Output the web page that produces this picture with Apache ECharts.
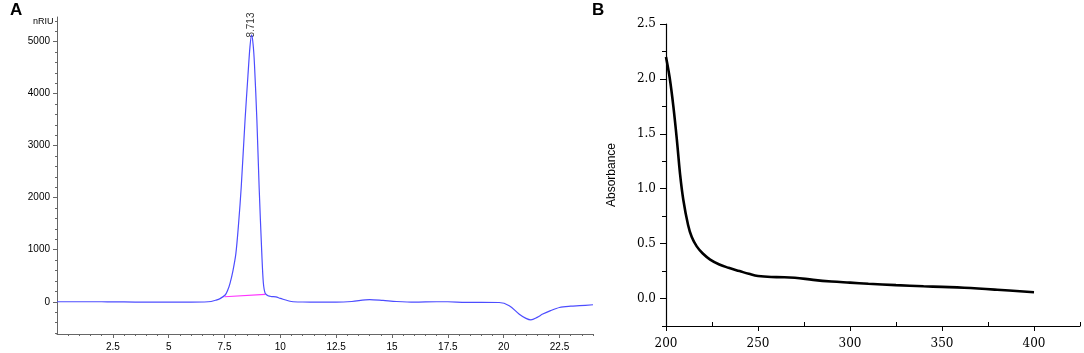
<!DOCTYPE html>
<html>
<head>
<meta charset="utf-8">
<script src="https://cdn.jsdelivr.net/npm/echarts@6/dist/echarts.min.js"></script>
<style>
html,body{margin:0;padding:0;background:#fff;}
#c{width:1084px;height:353px;}
</style>
</head>
<body>
<div id="c"></div>
<script>
// ---- Panel A: chromatogram (time, nRIU) ----
const timeA = [0,1,2,2.5,3.5,5,6,6.6,6.9,7.1,7.3,7.53,7.65,7.75,7.88,8.01,8.13,8.25,8.42,8.55,8.64,8.713,8.78,8.84,8.95,9.05,9.17,9.24,9.32,9.45,9.6,9.8,10.0,10.5,11.0,11.5,12.5,13.2,14.0,14.6,15.2,16.0,17.0,17.5,18.3,19.0,19.8,20.25,20.7,21.0,21.22,21.5,21.75,22.1,22.5,23.0,23.4,24.0];
const signalA = [0,0,0,-2,-6,-7,-7,-5,5,28,60,130,230,360,600,930,1500,2212,3494,4350,4900,5130,4950,4580,3494,2212,930,360,165,115,100,95,65,5,-5,-6,-8,5,42,25,5,-8,0,0,-12,-12,-14,-75,-240,-320,-348,-300,-237,-170,-110,-85,-75,-58];
const baselineT = [7.5, 9.32];
const baselineV = [96, 142];
const peakLabel = "8.713";
const peakTime = 8.713;
const peakValue = 5080;
const xTicksA = [2.5,5,7.5,10,12.5,15,17.5,20,22.5];
const yTicksA = [0,1000,2000,3000,4000,5000];

// ---- Panel B: UV spectrum (wavelength, absorbance) ----
const waveB = [200,202,204,206,207.6,209.4,212,214,216.7,220,224,229,234,240,245,250,260,270,280,290,300,310,325,340,350,362,380,400];
const absB = [2.20,2.01,1.75,1.43,1.14,0.90,0.67,0.56,0.475,0.41,0.355,0.31,0.28,0.25,0.225,0.205,0.195,0.19,0.17,0.155,0.145,0.135,0.122,0.112,0.106,0.098,0.08,0.057];
const xTicksB = [200,250,300,350,400];
const yTicksB = [0,0.5,1.0,1.5,2.0,2.5];

function range(a,b,s){const r=[];for(let v=a;v<=b+1e-9;v+=s){r.push(Math.round(v*1000)/1000);}return r;}
const minorYA = range(-600,5400,200).filter(v=>v%1000!==0);
const minorXA = range(0.5,24,0.5).filter(v=>Math.abs(v/2.5-Math.round(v/2.5))>1e-6);
const minorYB = [-0.25,0.25,0.75,1.25,1.75,2.25];
const minorXB = [225,275,325,375,425];

const lineA = timeA.map((t,i)=>[t,signalA[i]]);
const baseA = baselineT.map((t,i)=>[t,baselineV[i]]);
const lineB = waveB.map((w,i)=>[w,absB[i]]);

const fA = 'Liberation Sans, Arial, sans-serif';
const fB = 'DejaVu Serif, serif';
const axA = '#666';

const chart = echarts.init(document.getElementById('c'), null, {renderer:'canvas'});
chart.setOption({
  animation:false,
  backgroundColor:'#fff',
  graphic:[
    {type:'text', left:10, top:2, style:{text:'A', font:'bold 17px '+fA, fill:'#000'}},
    {type:'text', left:592, top:2, style:{text:'B', font:'bold 17px '+fA, fill:'#000'}},
    {type:'text', left:33, top:17, style:{text:'nRIU', font:'9px '+fA, fill:'#000'}}
  ],
  grid:[
    {left:57, top:17, width:536, height:317},
    {left:666, top:24, width:414, height:302}
  ],
  xAxis:[
    {gridIndex:0, type:'value', min:0, max:24, position:'bottom',
      axisLine:{onZero:false, lineStyle:{color:axA}}, splitLine:{show:false},
      axisTick:{customValues:xTicksA, length:4, lineStyle:{color:axA}},
      axisLabel:{customValues:xTicksA, margin:8, fontSize:10, fontFamily:fA, color:'#000'}},
    {gridIndex:0, type:'value', min:0, max:24, position:'bottom',
      axisLine:{show:false, onZero:false}, splitLine:{show:false},
      axisTick:{customValues:minorXA, length:2, lineStyle:{color:axA}},
      axisLabel:{show:false}},
    {gridIndex:1, type:'value', min:200, max:425, position:'bottom',
      axisLine:{onZero:false, lineStyle:{color:'#000', width:1.2}}, splitLine:{show:false},
      axisTick:{customValues:xTicksB, length:5, lineStyle:{color:'#000'}},
      axisLabel:{customValues:xTicksB, margin:12, fontSize:12, fontFamily:fB, color:'#000'}},
    {gridIndex:1, type:'value', min:200, max:425, position:'bottom',
      axisLine:{show:false, onZero:false}, splitLine:{show:false},
      axisTick:{customValues:minorXB, inside:true, length:4, lineStyle:{color:'#000'}},
      axisLabel:{show:false}}
  ],
  yAxis:[
    {gridIndex:0, type:'value', min:-620, max:5475, position:'left',
      axisLine:{show:true, onZero:false, lineStyle:{color:axA}}, splitLine:{show:false},
      axisTick:{show:true, customValues:yTicksA, length:4, lineStyle:{color:axA}},
      axisLabel:{customValues:yTicksA, margin:7, fontSize:10, fontFamily:fA, color:'#000',
        formatter:v=>String(v)}},
    {gridIndex:0, type:'value', min:-620, max:5475, position:'left',
      axisLine:{show:false, onZero:false}, splitLine:{show:false},
      axisTick:{show:true, customValues:minorYA, length:2, lineStyle:{color:axA}},
      axisLabel:{show:false}},
    {gridIndex:1, type:'value', min:-0.25, max:2.5, position:'left',
      name:'Absorbance', nameLocation:'middle', nameGap:48,
      nameTextStyle:{fontSize:12, fontFamily:fA, color:'#000'},
      axisLine:{show:true, onZero:false, lineStyle:{color:'#000', width:1.2}}, splitLine:{show:false},
      axisTick:{show:true, customValues:yTicksB, length:6, lineStyle:{color:'#000'}},
      axisLabel:{customValues:yTicksB, margin:10, fontSize:12, fontFamily:fB, color:'#000',
        formatter:v=>v.toFixed(1)}},
    {gridIndex:1, type:'value', min:-0.25, max:2.5, position:'left',
      axisLine:{show:false, onZero:false}, splitLine:{show:false},
      axisTick:{show:true, customValues:minorYB, length:4, lineStyle:{color:'#000'}},
      axisLabel:{show:false}}
  ],
  series:[
    {type:'line', xAxisIndex:0, yAxisIndex:0, data:lineA, showSymbol:false, smooth:0.3,
      lineStyle:{color:'#4d4dff', width:1.2}},
    {type:'line', xAxisIndex:0, yAxisIndex:0, data:baseA, showSymbol:false,
      lineStyle:{color:'#ff33ff', width:1.2}},
    {type:'scatter', xAxisIndex:0, yAxisIndex:0, data:[[peakTime,peakValue]], symbolSize:0,
      label:{show:true, formatter:peakLabel, rotate:90, position:[0,0], align:'left', verticalAlign:'middle',
        fontSize:10, fontFamily:fA, color:'#000'}},
    {type:'line', xAxisIndex:2, yAxisIndex:2, data:lineB, showSymbol:false, smooth:0.4,
      lineStyle:{color:'#000', width:2.6}}
  ]
});
</script>
</body>
</html>
